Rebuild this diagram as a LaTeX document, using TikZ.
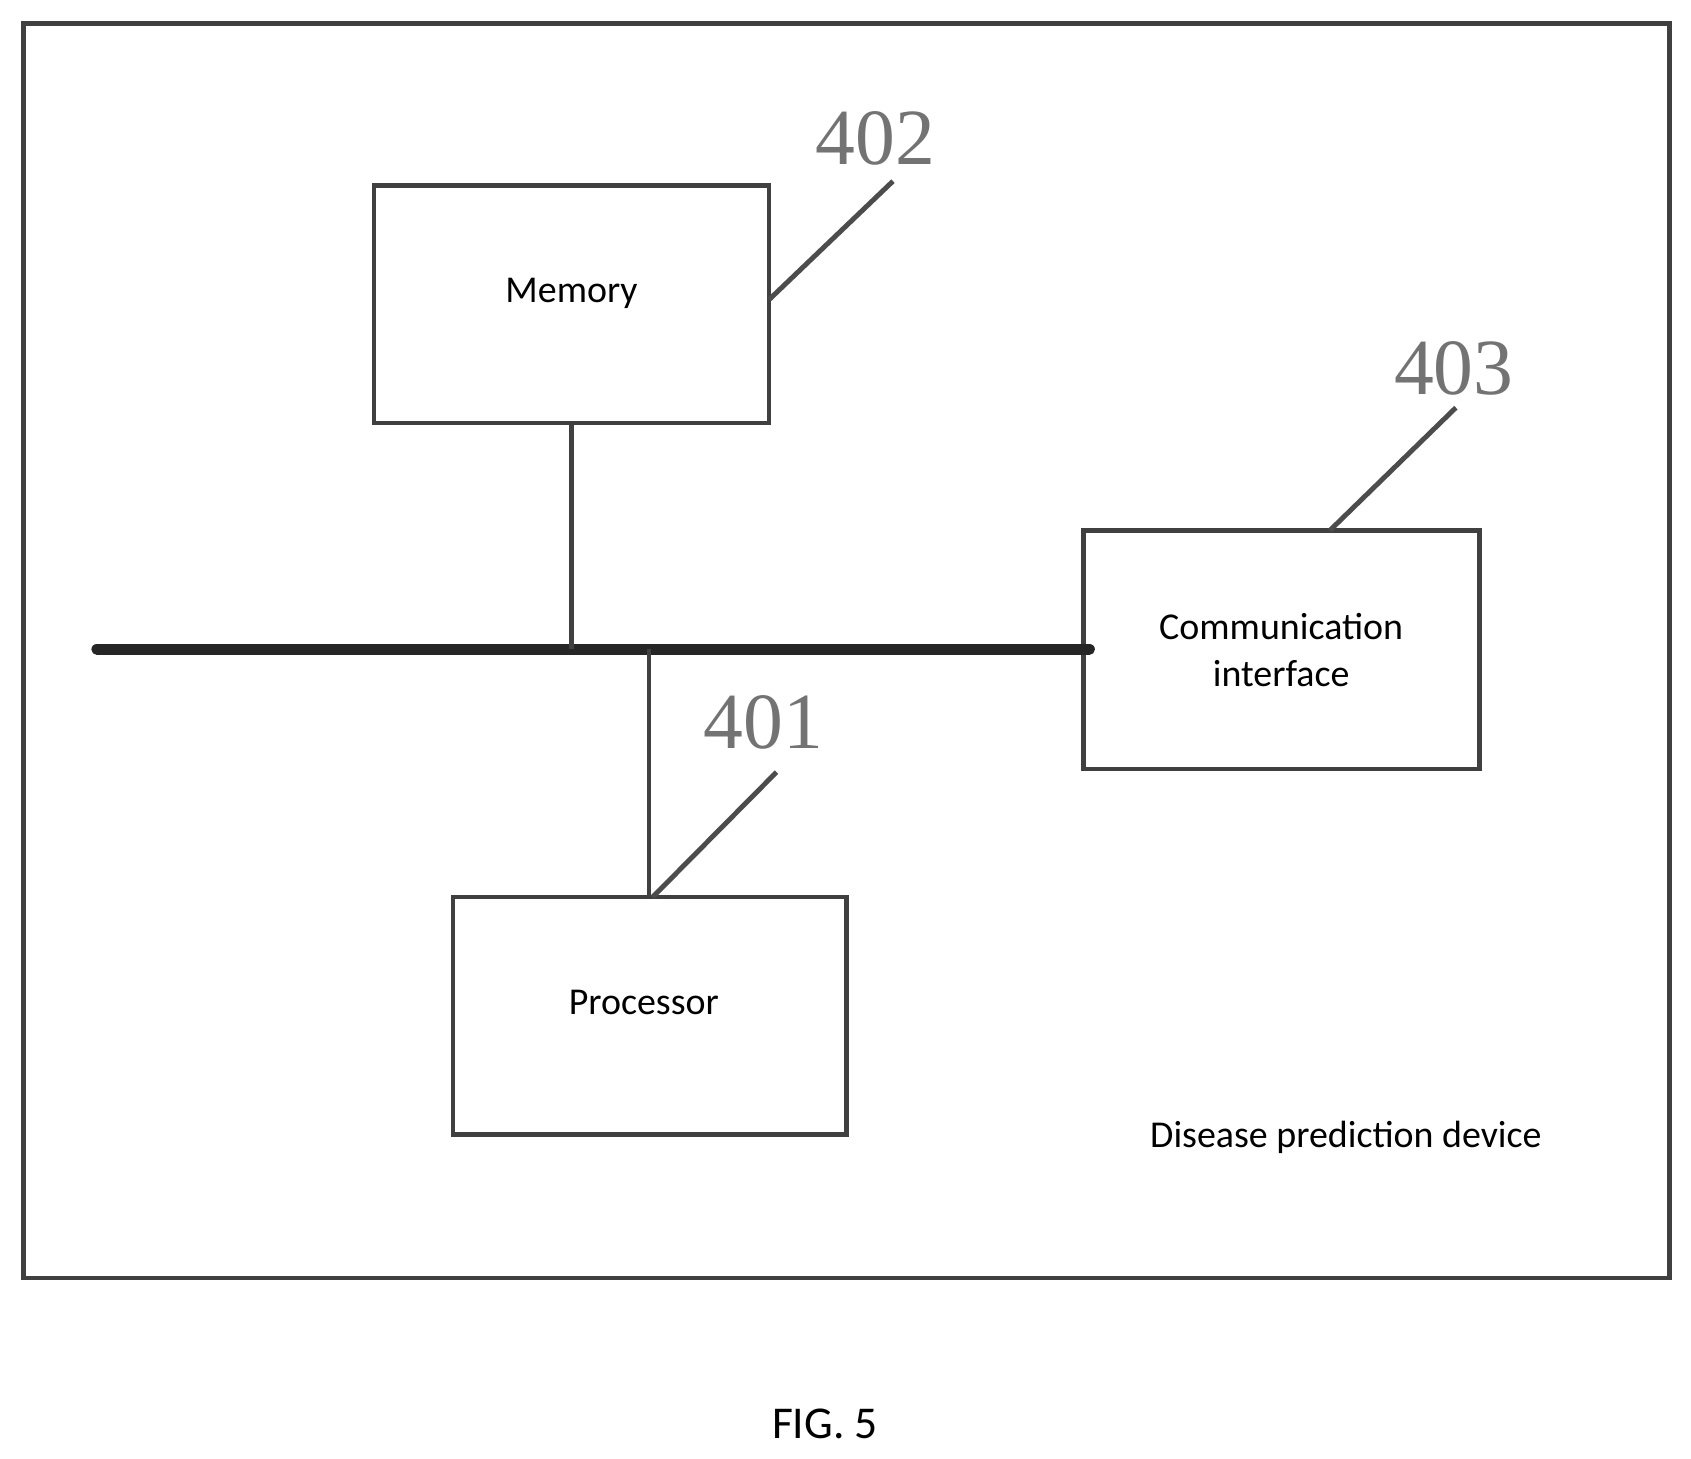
\documentclass[tikz,border=0pt]{standalone}
\usepackage{fontspec}
\setmainfont{Carlito}
\newfontfamily\numfont{Liberation Serif}
\begin{document}
\begin{tikzpicture}[x=0.01cm,y=-0.01cm,
  box/.style={draw=black!75,line width=1.2pt},
  blk/.style={box,rectangle,minimum width=3.66cm,minimum height=2.2cm,inner sep=0pt},
  lead/.style={draw=black!70,line width=1.3pt},
  lbl/.style={font=\fontsize{10}{12.5}\selectfont,align=center},
  num/.style={font=\numfont\fontsize{21}{21}\selectfont,text=black!55}]
\useasboundingbox (0,0) rectangle (1568,1352);
\draw[box] (22,22) rectangle (1548,1185);
\node[blk] (mem) at (530,282) {};
\node[lbl] at (530,272) {Memory};
\node[blk,minimum width=3.67cm,minimum height=2.21cm] (com) at (1188.5,602.5) {};
\node[lbl] at (1188,603) {Communication\\interface};
\node[blk,minimum width=3.65cm] (pro) at (602.5,942) {};
\node[lbl] at (597,930) {Processor};
\coordinate (busL) at (90,602);
\coordinate (busR) at (1010,602);
\coordinate (busM) at (mem.south |- busL);
\coordinate (busP) at (602,602);
\coordinate (memR) at (713,278);
\coordinate (comT) at (1233,492);
\coordinate (proT) at (605,832);
\coordinate (proTL) at (602,832);
\draw[black!85,line width=3pt,line cap=round] (busL) -- (busR);
\draw[box] (mem.south) -- (busM);
\draw[box] (busP) -- (proTL);
\node[num] (n402) at (812,128) {402};
\node[num] (n403) at (1348,342) {403};
\node[num] (n401) at (708,670) {401};
\coordinate (e402) at (828,168);
\coordinate (e403) at (1350,378);
\coordinate (e401) at (720,716);
\draw[lead] (memR) -- (e402);
\draw[lead] (comT) -- (e403);
\draw[lead] (proT) -- (e401);
\node[lbl] at (1248,1055) {Disease prediction device};
\node[font=\fontsize{12}{14}\selectfont] at (765,1320) {FIG. 5};
\end{tikzpicture}
\end{document}
